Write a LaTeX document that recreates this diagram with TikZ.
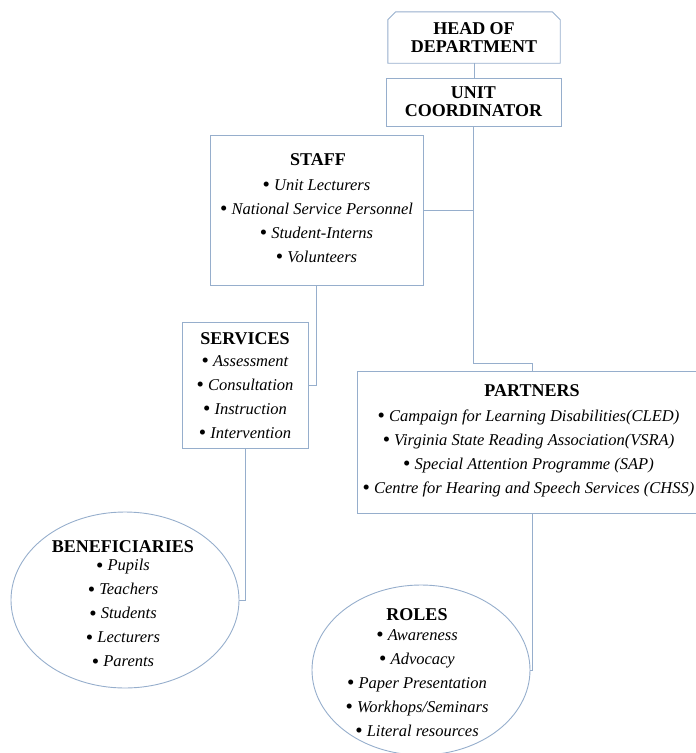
\documentclass[tikz,border=0pt]{standalone}
\usepackage{fontspec}
\setmainfont{Liberation Serif}
\usetikzlibrary{shapes.geometric}
\definecolor{lineblue}{RGB}{150,174,204}
\newcommand{\bul}{\raisebox{-1.4pt}{\upshape\fontsize{21}{24}\selectfont\textbullet}\ }
\begin{document}
\begin{tikzpicture}[x=1pt,y=-1pt,
  conn/.style={draw=lineblue,line width=0.9pt},
  boxshape/.style={draw=lineblue,line width=0.9pt,rectangle,inner sep=0pt},
  ovalshape/.style={draw=lineblue,line width=0.9pt,ellipse,inner sep=0pt},
  ttl/.style={font=\fontsize{18}{18}\selectfont\bfseries,align=center,inner sep=0pt},
  itm/.style={font=\fontsize{16.5}{24}\selectfont\itshape,align=center,inner sep=0pt}]
\path[use as bounding box] (0,0) rectangle (696,753);
\clip (0,0) rectangle (696,753);

% Head of department (snipped top corners)
\node[ttl,rectangle,minimum width=172pt,minimum height=51pt] (head) at (474,37.5) {HEAD OF\\DEPARTMENT};
\draw[conn] ([yshift=-8pt]head.north west) -- ([xshift=8pt]head.north west)
  -- ([xshift=-8pt]head.north east) -- ([yshift=-8pt]head.north east)
  -- (head.south east) -- (head.south west) -- cycle;

% Unit coordinator
\node[boxshape,ttl,minimum width=175pt,minimum height=48pt] (unit) at (473.5,102) {UNIT\\COORDINATOR};

% Staff
\node[boxshape,minimum width=213pt,minimum height=150pt] (staff) at (316.5,210) {};
\node[ttl] (staffT) at (318,160) {STAFF};
\node[itm] (staffL) at (316.5,221.5) {\bul Unit Lecturers\\\bul National Service Personnel\\\bul Student-Interns\\\bul Volunteers};

% Services
\node[boxshape,minimum width=126pt,minimum height=126pt] (services) at (245,385) {};
\node[ttl] (servicesT) at (245,339) {SERVICES};
\node[itm] (servicesL) at (245,397.75) {\bul Assessment\\\bul Consultation\\\bul Instruction\\\bul Intervention};

% Partners
\node[boxshape,minimum width=350pt,minimum height=142pt] (partners) at (532,442) {};
\node[ttl] (partnersT) at (532,391) {PARTNERS};
\node[itm] (partnersL) at (528.5,453.25) {\bul Campaign for Learning Disabilities(CLED)\\\bul Virginia State Reading Association(VSRA)\\\bul Special Attention Programme (SAP)\\\bul Centre for Hearing and Speech Services (CHSS)};

% Beneficiaries
\node[ovalshape,minimum width=228pt,minimum height=176pt] (benef) at (125,600) {};
\node[ttl] (benefT) at (123,547) {BENEFICIARIES};
\node[itm] (benefL) at (123,613.6) {\bul Pupils\\\bul Teachers\\\bul Students\\\bul Lecturers\\\bul Parents};

% Roles
\node[ovalshape,minimum width=218pt,minimum height=170pt] (roles) at (421,670) {};
\node[ttl] (rolesT) at (417,615) {ROLES};
\node[itm] (rolesL) at (417,683.4) {\bul Awareness\\\bul Advocacy\\\bul Paper Presentation\\\bul Workhops/Seminars\\\bul Literal resources};

% Connectors
\coordinate (j1) at (473.5,363);
\draw[conn] (head.south) -- (head.south |- unit.north);
\draw[conn] (unit.south) -- (j1) -| (partners.north);
\draw[conn] (staff.east) -- (staff.east -| unit.south);
\draw[conn] (staff.south) |- (services.east);
\draw[conn] (services.south) |- (benef.east);
\draw[conn] (partners.south) |- (roles.east);
\end{tikzpicture}
\end{document}
